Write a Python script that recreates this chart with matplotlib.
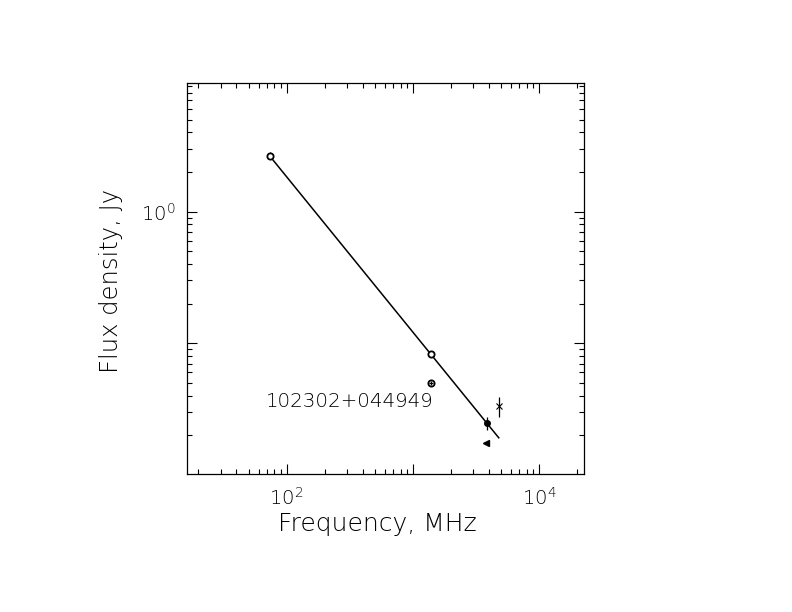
import numpy as np
import matplotlib
matplotlib.use("Agg")
import matplotlib.pyplot as plt
from matplotlib.ticker import LogLocator, FuncFormatter, NullFormatter

plt.rcParams["font.weight"] = "light"
plt.rcParams["axes.labelweight"] = "light"
plt.rcParams["mathtext.default"] = "regular"

# measurements (MHz, Jy)
circ_freq = [74, 1400]
circ_flux = [2.66, 0.083]
circ_err = [0.16, 0.004]

plus_freq = [1400]
plus_flux = [0.0497]

dot_freq = [3900]
dot_flux = [0.0247]
dot_err = [0.0028]

cross_freq = [4850]
cross_flux = [0.0331]
cross_err = [0.0058]

lim_freq = [3800]
lim_flux = [0.0176]

# power-law fit
fit_range = [74, 4800]
fit_s0 = 2.63
fit_alpha = -1.18

source_name = "102302+044949"
labelled_exp = [0, 2, 4]


def fmt_decade(v, pos):
    e = int(round(np.log10(v)))
    if e in labelled_exp:
        return r"10$^{%d}$" % e
    return ""


fig = plt.figure(figsize=(7.92, 6.12), dpi=100)
ax = fig.add_axes([0.236, 0.2255, 0.501, 0.639])

fx = np.array(fit_range, dtype=float)
ax.plot(fx, fit_s0 * (fx / fit_range[0]) ** fit_alpha, color="black", lw=1.1)

ax.errorbar(circ_freq, circ_flux, yerr=circ_err, fmt="o", mfc="white", mec="black",
            mew=1.3, ms=4.5, ecolor="black", elinewidth=0.9, capsize=0)
ax.plot(plus_freq, plus_flux, "o", mfc="white", mec="black", mew=1.3, ms=4.5)
ax.plot(plus_freq, plus_flux, "+", color="black", mew=0.9, ms=3.5)
ax.errorbar(dot_freq, dot_flux, yerr=dot_err, fmt="o", color="black", ms=4,
            elinewidth=0.9, capsize=0)
ax.errorbar(cross_freq, cross_flux, yerr=cross_err, fmt="x", color="black", ms=5,
            mew=0.8, elinewidth=0.9, capsize=0)
ax.plot(lim_freq, lim_flux, "<", color="black", ms=4.5)

ax.text(0.2, 0.186, source_name, transform=ax.transAxes, fontsize=14.3,
        ha="left", va="center", color="black")

ax.set_xscale("log")
ax.set_yscale("log")
ax.set_xlim(16.25, 22600)
ax.set_ylim(0.01016, 9.5)

for axis in (ax.xaxis, ax.yaxis):
    axis.set_major_locator(LogLocator(base=10, numticks=20))
    axis.set_minor_locator(LogLocator(base=10, subs=np.arange(2, 10), numticks=20))
    axis.set_major_formatter(FuncFormatter(fmt_decade))
    axis.set_minor_formatter(NullFormatter())

ax.tick_params(which="both", direction="in", top=True, right=True, width=0.8,
               labelsize=14, labelcolor="black")
ax.tick_params(which="major", length=7)
ax.tick_params(which="minor", length=3.5)
ax.tick_params(axis="x", pad=9)
ax.tick_params(axis="y", pad=8)
for s in ax.spines.values():
    s.set_linewidth(0.9)

ax.set_xlabel("Frequency, MHz", fontsize=18)
ax.set_ylabel("Flux density, Jy", fontsize=17.5)
ax.xaxis.set_label_coords(0.479, -0.097)
ax.yaxis.set_label_coords(-0.161, 0.494)

fig.savefig("out.png", dpi=100)
